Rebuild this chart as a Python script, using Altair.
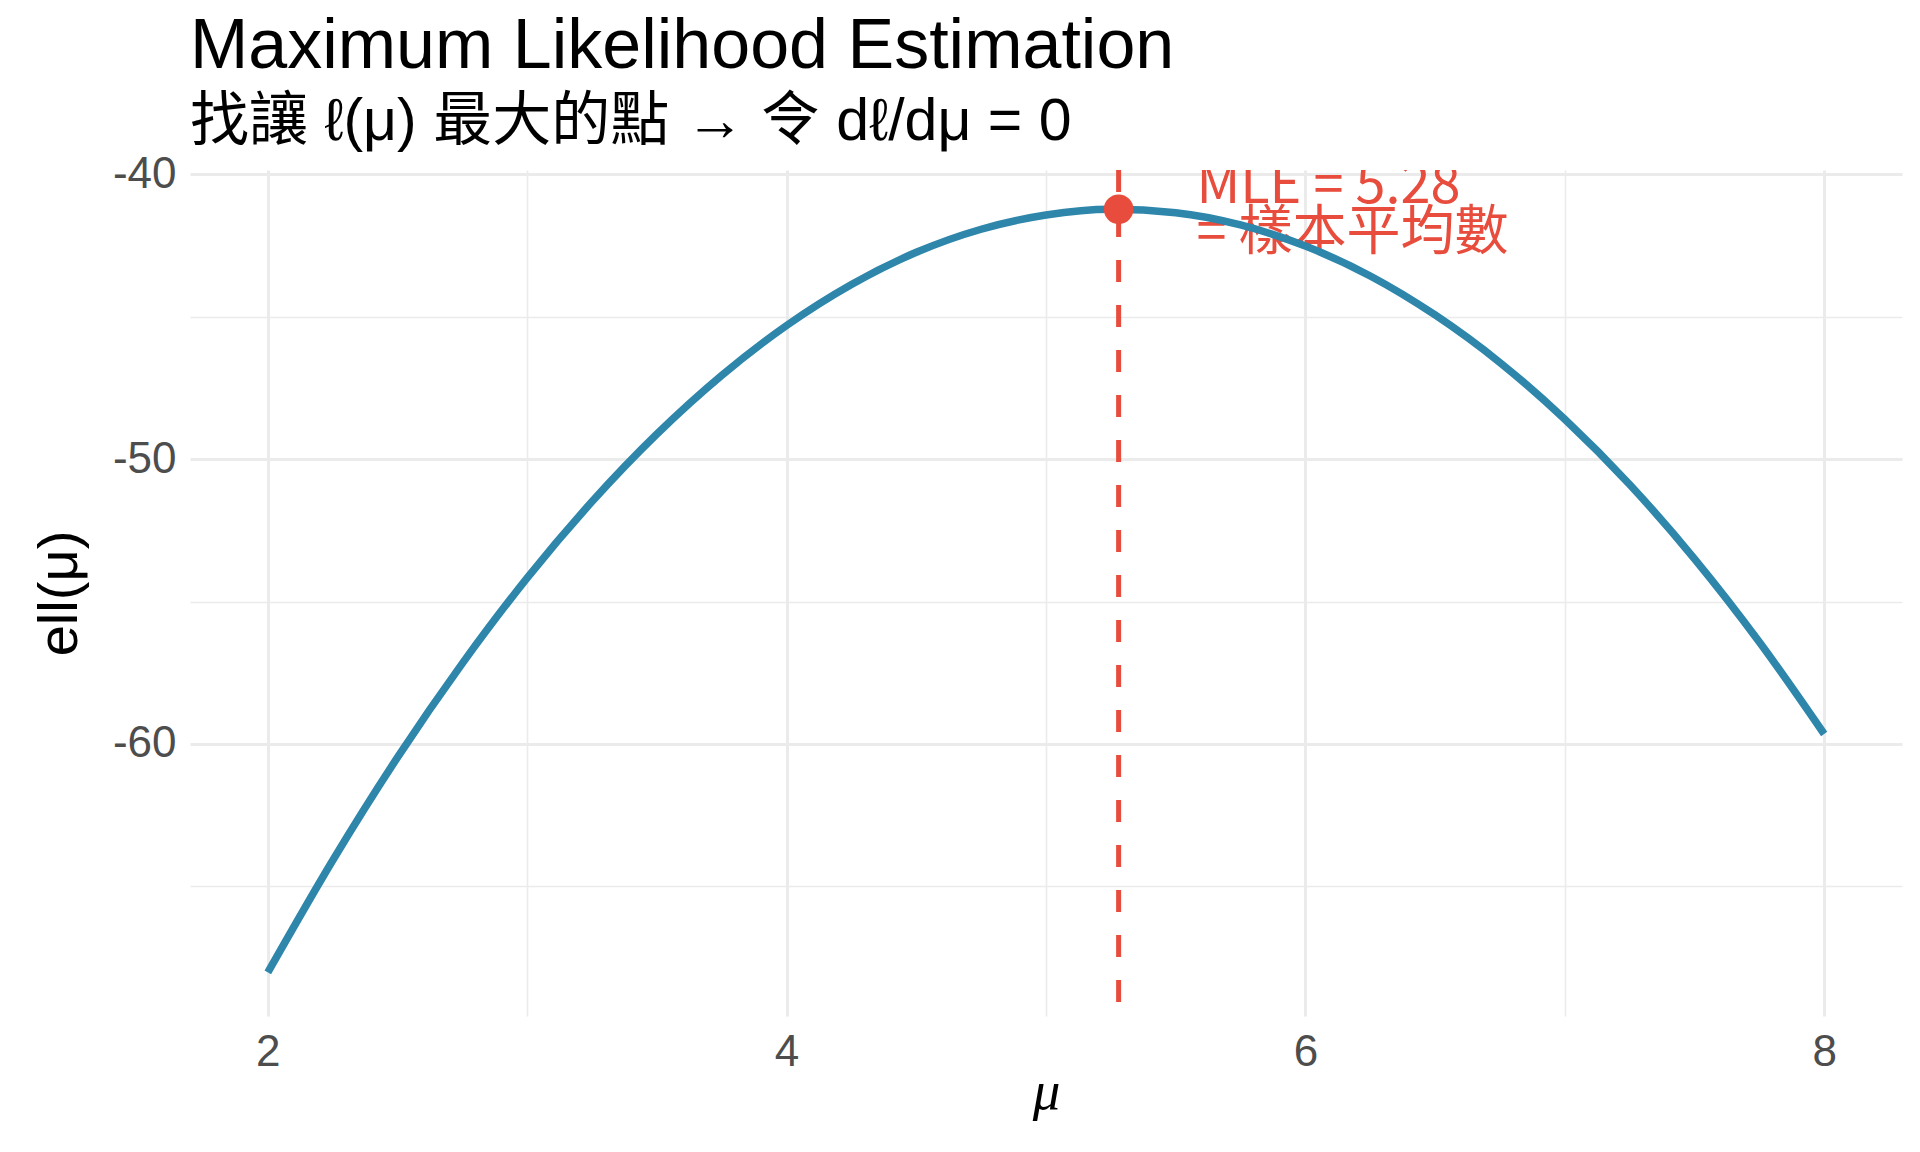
import altair as alt
import pandas as pd

# ---- data ----
mu_vals = [2.0, 2.25, 2.5, 2.75, 3.0, 3.25, 3.5, 3.75, 4.0, 4.25, 4.5, 4.75,
           5.0, 5.25, 5.5, 5.75, 6.0, 6.25, 6.5, 6.75, 7.0, 7.25, 7.5, 7.75, 8.0]
ll_vals = [-68.02, -64.09, -60.47, -57.17, -54.17, -51.49, -49.12, -47.06,
           -45.31, -43.87, -42.74, -41.93, -41.43, -41.23, -41.35, -41.78,
           -42.52, -43.57, -44.94, -46.61, -48.60, -50.89, -53.50, -56.42, -59.65]
mle_mu = 5.28
mle_ll = -41.23
annot_lines = ["MLE = 5.28", "= 樣本平均數"]
x_ticks = [2, 3, 4, 5, 6, 7, 8]
y_ticks = [-65, -60, -55, -50, -45, -40]

BLUE = "#2E86AB"
RED = "#E74C3C"

curve_df = pd.DataFrame({"mu": mu_vals, "ll": ll_vals})
mle_df = pd.DataFrame({"mu": [mle_mu], "ll": [mle_ll]})
annot_df = pd.DataFrame({"mu": [mle_mu + 0.3], "ll": [mle_ll], "label": [annot_lines]})

x_scale = alt.Scale(domain=[1.7, 8.3], nice=False, zero=False)
y_scale = alt.Scale(domain=[-69.55, -39.85], nice=False, zero=False)

x_axis = alt.Axis(
    values=x_ticks,
    labelExpr="datum.value % 2 == 0 ? '' + datum.value : ''",
    gridWidth={"condition": {"test": "datum.value % 2 == 0", "value": 3}, "value": 1.6},
    title="μ",
    titleFont="Liberation Serif",
    titleFontStyle="italic",
    titleFontSize=55,
    titleFontWeight="normal",
    titleBaseline="alphabetic",
    titleY=92,
    labelPadding=14,
)
y_axis = alt.Axis(
    values=y_ticks,
    labelExpr="datum.value % 10 == 0 ? '' + datum.value : ''",
    gridWidth={"condition": {"test": "datum.value % 10 == 0", "value": 3}, "value": 1.6},
    title="ell(μ)",
    titleFont="Liberation Sans",
    titleFontSize=56,
    titleFontWeight="normal",
    titleBaseline="alphabetic",
    titleAngle=270,
    titleX=-114,
    titleY=423,
    labelPadding=14,
)

X = alt.X("mu:Q", scale=x_scale, axis=x_axis)
Y = alt.Y("ll:Q", scale=y_scale, axis=y_axis)

rule = alt.Chart(mle_df).mark_rule(color=RED, strokeWidth=5, strokeDash=[22, 23]).encode(x=X)

text = alt.Chart(annot_df).mark_text(
    align="left", baseline="middle", dy=-22, font="Noto Sans CJK TC",
    fontSize=54, lineHeight=47, color=RED, clip=True
).encode(x=X, y=Y, text="label")

line = alt.Chart(curve_df).mark_line(
    color=BLUE, strokeWidth=7.5, interpolate="monotone"
).encode(x=X, y=Y)

point = alt.Chart(mle_df).mark_point(
    filled=True, color=RED, size=875, opacity=1, shape="circle"
).encode(x=X, y=Y)

chart = alt.layer(rule, text, line, point).properties(
    width=1712,
    height=846,
    autosize=alt.AutoSizeParams(type="none"),
    padding={"left": 182, "top": 162, "right": 10, "bottom": 128},
    title=alt.Title(
        text="Maximum Likelihood Estimation",
        subtitle="找讓 ℓ(μ) 最大的點 → 令 dℓ/dμ = 0",
        anchor="start",
        frame="group",
        font="Liberation Sans",
        fontSize=70,
        fontWeight="normal",
        color="black",
        subtitleFont="Liberation Sans, Noto Sans CJK TC",
        subtitleFontSize=59,
        subtitleColor="black",
        subtitlePadding=10,
        offset=-1,
    ),
).configure_view(stroke=None).configure_axis(
    domain=False,
    ticks=False,
    tickSize=0,
    gridColor="#EBEBEB",
    labelFont="Liberation Sans",
    labelFontSize=44,
    labelColor="#4D4D4D",
    titleColor="black",
)

chart.save("out.html", embed_options={"renderer": "svg", "actions": False})
